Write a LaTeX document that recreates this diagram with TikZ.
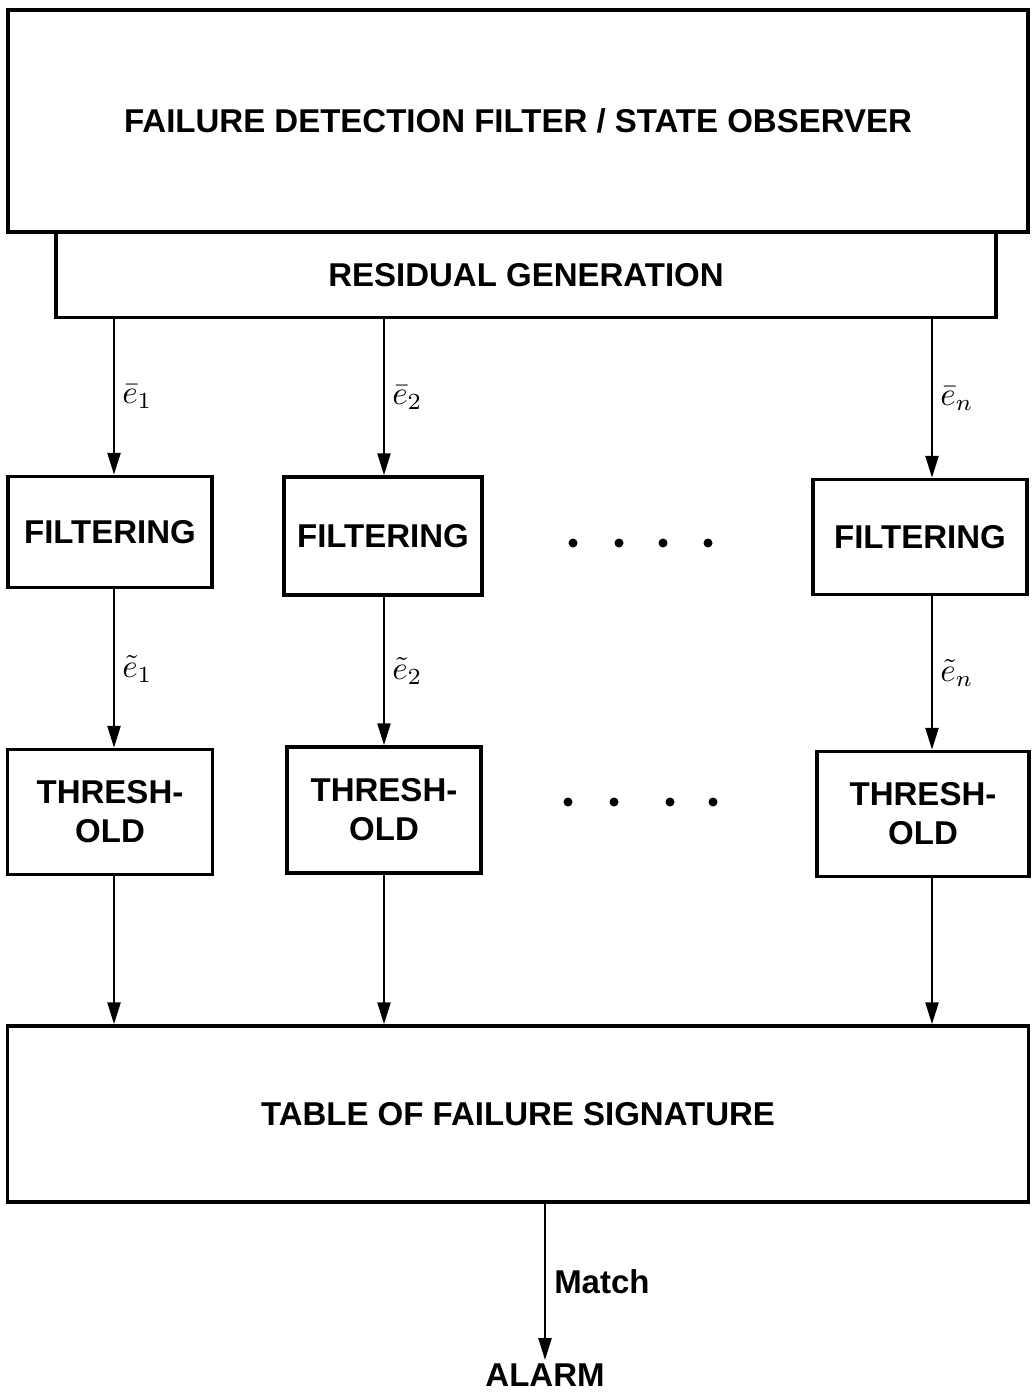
\documentclass[tikz,border=0pt]{standalone}
\usepackage{fontspec}
\setmainfont{Liberation Sans}
\usepackage{graphicx}
\usepackage{tikz}
\usetikzlibrary{arrows.meta}

% residual labels, drawn large
\newcommand{\resid}[1]{\scalebox{3.3}{$#1$}}

\tikzset{
  block/.style={draw, line width=3.5pt, inner sep=0pt, align=center,
    font=\fontsize{33}{39}\selectfont\bfseries},
  sig/.style={inner sep=7pt}
}

\begin{document}
\begin{tikzpicture}[x=1pt, y=-1pt, line width=2.5pt,
    >={Triangle[length=22pt, width=13pt]}, semithick]
  \useasboundingbox (0,0) rectangle (1034,1394);

  % observer and residuals
  \node[block, minimum width=1020, minimum height=222] (FDF) at (518,121) {FAILURE DETECTION FILTER / STATE OBSERVER};
  \node[block, minimum width=940, minimum height=85]   (RG)  at (526,275) {RESIDUAL GENERATION};

  % one channel per residual
  \node[block, minimum width=204, minimum height=111] (F1) at (110,532) {FILTERING};
  \node[block, minimum width=198, minimum height=118] (F2) at (383,536) {FILTERING};
  \node[block, minimum width=214, minimum height=115] (Fn) at (920,537) {FILTERING};

  \node[block, minimum width=205, minimum height=125] (T1) at (110,812) {THRESH-\\OLD};
  \node[block, minimum width=194, minimum height=126] (T2) at (384,810) {THRESH-\\OLD};
  \node[block, minimum width=212, minimum height=125] (Tn) at (923,814) {THRESH-\\OLD};

  \node[block, minimum width=1021, minimum height=176] (TFS) at (518,1114) {TABLE OF FAILURE SIGNATURE};
  \node[font=\fontsize{33}{33}\selectfont\bfseries] (AL) at (545,1375) {ALARM};

  \coordinate (c1) at (114,0);
  \coordinate (c2) at (384,0);
  \coordinate (cn) at (932,0);

  \path[->, line width=2.5pt]
    (c1 |- RG.south) edge node[sig, right] {\resid{\bar{e}_1}} (c1 |- F1.north)
    (c2 |- RG.south) edge node[sig, right] {\resid{\bar{e}_2}} (c2 |- F2.north)
    (cn |- RG.south) edge node[sig, right] {\resid{\bar{e}_n}} (cn |- Fn.north)
    (c1 |- F1.south) edge node[sig, right] {\resid{\tilde{e}_1}} (c1 |- T1.north)
    (c2 |- F2.south) edge node[sig, right] {\resid{\tilde{e}_2}} (c2 |- T2.north)
    (cn |- Fn.south) edge node[sig, right] {\resid{\tilde{e}_n}} (cn |- Tn.north)
    (c1 |- T1.south) edge (c1 |- TFS.north)
    (c2 |- T2.south) edge (c2 |- TFS.north)
    (cn |- Tn.south) edge (cn |- TFS.north)
    (AL |- TFS.south) edge node[right, inner sep=8pt, font=\fontsize{33}{33}\selectfont\bfseries] {Match} (AL.north);

  % the skipped channels
  \foreach \x in {573,619,663,708} \fill (\x,543) circle (4.5pt);
  \foreach \x in {568,614,670,713} \fill (\x,802) circle (4.5pt);
\end{tikzpicture}
\end{document}
